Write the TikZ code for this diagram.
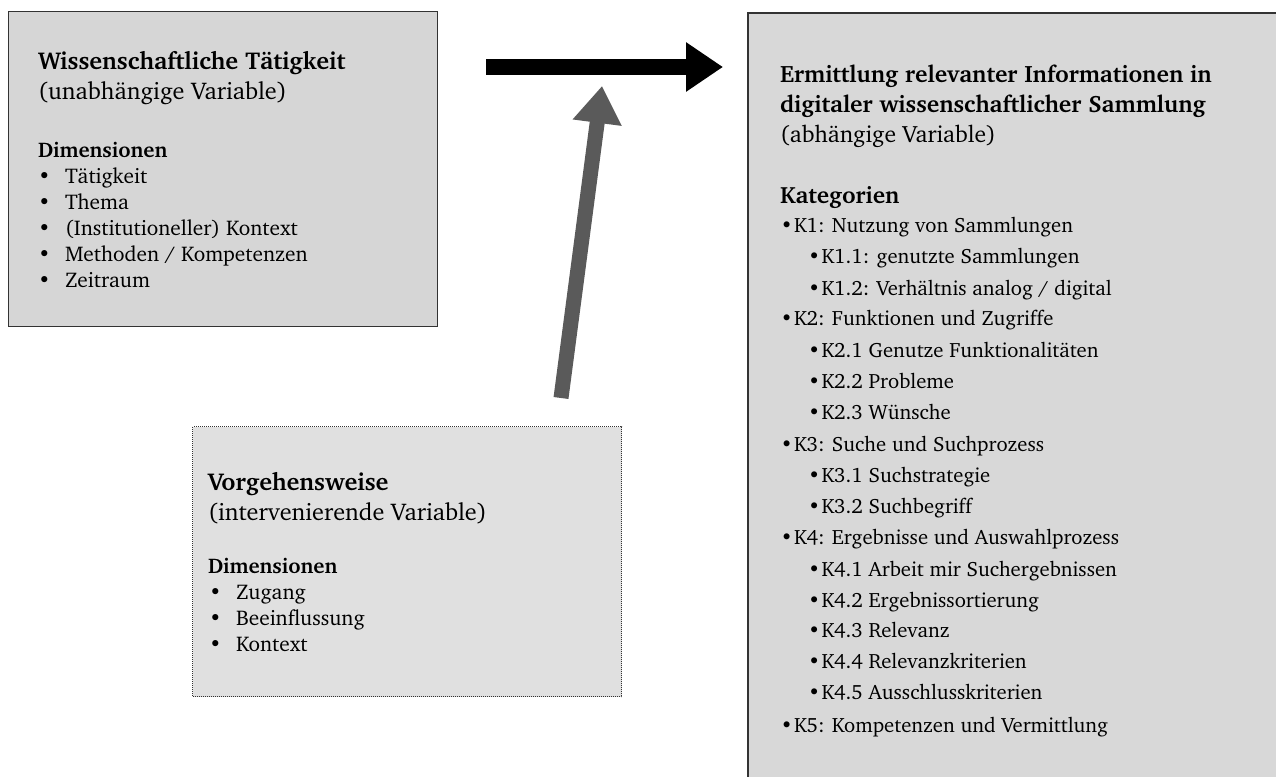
\documentclass[tikz,border=0pt]{standalone}
\usepackage[T1]{fontenc}
\usepackage{textcomp}
\renewcommand\rmdefault{bch}
\usetikzlibrary{arrows.meta}
\definecolor{fillA}{HTML}{D6D6D6}
\definecolor{fillB}{HTML}{E0E0E0}
\definecolor{fillC}{HTML}{D8D8D8}
\definecolor{edgeA}{HTML}{333333}
\definecolor{arrowgray}{HTML}{5A5A5A}
\tikzset{
  txt/.style={anchor=base west, inner sep=0pt, outer sep=0pt},
  ttl/.style={txt, font=\fontsize{24.4}{28}\selectfont\bfseries},
  sub/.style={txt, font=\fontsize{24.2}{28}\selectfont},
  hdr/.style={txt, font=\fontsize{21.2}{25}\selectfont\bfseries},
  itm/.style={txt, font=\fontsize{21.3}{25}\selectfont},
  rttl/.style={txt, font=\fontsize{23.7}{28}\selectfont\bfseries},
  rsub/.style={txt, font=\fontsize{23.6}{28}\selectfont},
  rhdr/.style={txt, font=\fontsize{23.5}{28}\selectfont\bfseries},
  ritm/.style={txt, font=\fontsize{20.7}{25}\selectfont},
  blockarrow/.style={line width=15pt, -{Triangle[length=37pt,width=47pt]}},
}
\begin{document}
\begin{tikzpicture}[x=1pt,y=-1pt]
\useasboundingbox (0,0) rectangle (1276,776);

% boxes
\node[draw=edgeA, line width=1.2pt, fill=fillA, minimum width=429pt, minimum height=315pt, anchor=north west, inner sep=0pt] (indep) at (8,11) {};
\node[draw=edgeA, dash pattern=on 1pt off 1pt, line width=1.2pt, fill=fillB, minimum width=429pt, minimum height=270pt, anchor=north west, inner sep=0pt] (interv) at (192,426) {};
\node[draw=edgeA, line width=2pt, fill=fillC, minimum width=540pt, minimum height=780pt, anchor=north west, inner sep=0pt] (dep) at (747,12) {};

% independent variable
\node[ttl] (t1) at (38,70) {Wissenschaftliche T\"atigkeit};
\node[sub] (s1) at (38,99) {(unabh\"angige Variable)};
\node[hdr] (h1) at (38,157) {Dimensionen};
\foreach \y/\t [count=\i] in {183/{T\"atigkeit}, 209/{Thema}, 235/{(Institutioneller) Kontext}, 261/{Methoden / Kompetenzen}, 287/{Zeitraum}}{
  \node[itm] (b1\i) at (38,\y) {\textbullet};
  \node[itm] (d1\i) at (65,\y) {\t};
}

% intervening variable
\node[ttl] (t2) at (208,490) {Vorgehensweise};
\node[sub] (s2) at (208,520) {(intervenierende Variable)};
\node[hdr] (h2) at (208,573) {Dimensionen};
\foreach \y/\t [count=\i] in {599/{Zugang}, 625/{Beeinflussung}, 651/{Kontext}}{
  \node[itm] (b2\i) at (209,\y) {\textbullet};
  \node[itm] (d2\i) at (236,\y) {\t};
}

% dependent variable
\node[rttl] (t3a) at (780,82) {Ermittlung relevanter Informationen in};
\node[rttl] (t3b) at (780,112) {digitaler wissenschaftlicher Sammlung};
\node[rsub] (s3) at (780,142) {(abh\"angige Variable)};
\node[rhdr] (h3) at (780,203) {Kategorien};
\foreach \l/\y/\t [count=\i] in {
  0/232/{K1: Nutzung von Sammlungen},
  1/263/{K1.1: genutzte Sammlungen},
  1/295/{K1.2: Verh\"altnis analog / digital},
  0/325/{K2: Funktionen und Zugriffe},
  1/357/{K2.1 Genutze Funktionalit\"aten},
  1/388/{K2.2 Probleme},
  1/419/{K2.3 W\"unsche},
  0/451/{K3: Suche und Suchprozess},
  1/482/{K3.1 Suchstrategie},
  1/513/{K3.2 Suchbegriff},
  0/544/{K4: Ergebnisse und Auswahlprozess},
  1/576/{K4.1 Arbeit mir Suchergebnissen},
  1/607/{K4.2 Ergebnissortierung},
  1/637/{K4.3 Relevanz},
  1/668/{K4.4 Relevanzkriterien},
  1/699/{K4.5 Ausschlusskriterien},
  0/732/{K5: Kompetenzen und Vermittlung}}{
  \node[ritm] (kb\i) at (780.5+27.5*\l,\y) {\textbullet};
  \node[ritm] (k\i) at (794+27.5*\l,\y) {\t};
}

% arrows
\coordinate (effA) at (486,67);
\coordinate (effB) at (723,67);
\coordinate (modA) at (561,398);
\coordinate (modB) at (602,86);
\draw[blockarrow, black] (effA) -- (effB);
\draw[blockarrow, arrowgray] (modA) -- (modB);
\end{tikzpicture}
\end{document}
